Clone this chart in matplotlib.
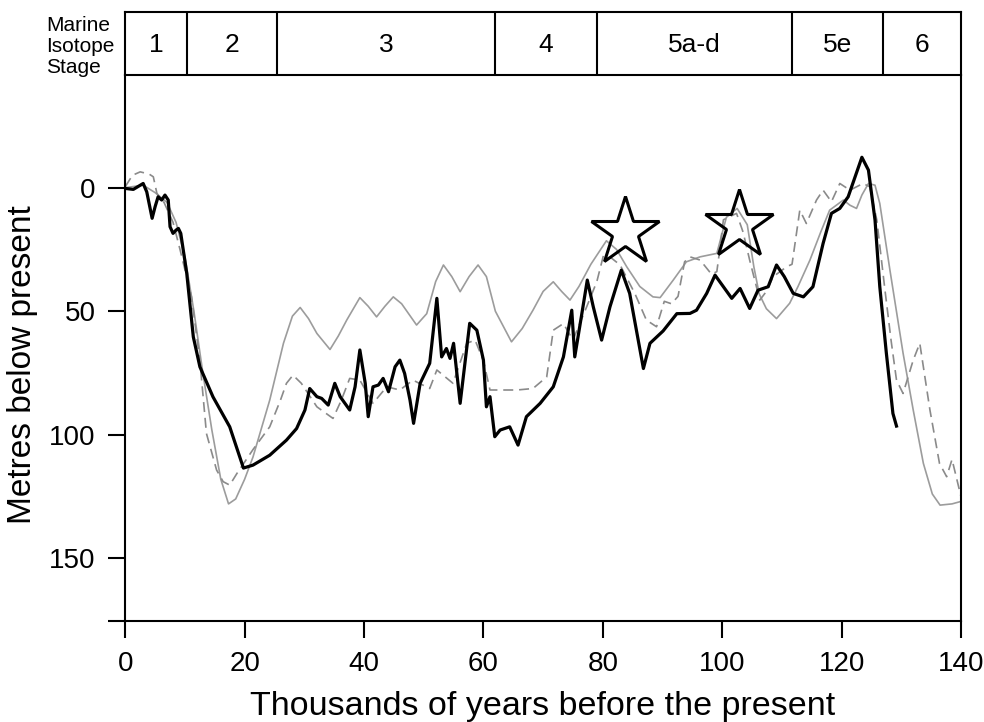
import matplotlib as mpl
mpl.use('Agg')
import matplotlib.pyplot as plt
import numpy as np

mpl.rc('font', family='Liberation Sans', size=20)

# thick black curve (ka, metres below present)
black_x = [0, 1.35, 3.0, 3.6, 4.5, 5.0, 5.5, 6.1, 6.65, 7.2, 7.5, 8.0, 8.5, 8.9, 9.3, 10.3, 11.4, 12.5,
           14.7, 17.5, 19.8, 21.4, 24.2, 27.0, 28.7, 30.1, 30.9, 32.1, 32.9, 34.0, 35.1, 36.0, 37.6, 38.5,
           39.3, 40.2, 40.7, 41.5, 42.4, 43.2, 44.1, 45.2, 46.0, 46.8, 47.7, 48.3, 49.4, 51.0, 52.2, 53.0,
           53.8, 54.4, 55.0, 56.1, 57.7, 58.9, 60.0, 60.5, 61.1, 61.9, 62.8, 64.4, 65.8, 67.2, 69.5, 71.7,
           73.4, 74.8, 75.3, 76.4, 77.4, 78.4, 79.8, 81.2, 83.1, 84.5, 86.8, 87.9, 90.1, 92.4, 94.6, 95.7,
           97.4, 98.8, 100.2, 101.6, 103.0, 104.6, 106.0, 107.7, 109.1, 110.4, 111.9, 113.6, 115.2, 116.9,
           118.3, 119.7, 121.1, 123.4, 124.5, 125.6, 126.4, 127.5, 128.6, 129.2]
black_y = [0.3, 0.7, -1.7, 1.7, 12.4, 7.7, 3.7, 5, 3, 5, 15.8, 18.5, 17.2, 16.5, 18.5, 34.7, 60.4, 72.5,
           84.7, 96.8, 113.5, 112.3, 108.3, 102.2, 97.5, 90, 81.3, 84.6, 85.3, 88, 79.2, 84.6, 90, 80.6,
           65.7, 79.2, 92.7, 80.6, 79.9, 77.2, 82.6, 72.5, 69.8, 75.2, 86, 95.4, 79.2, 71.1, 44.8, 68.5,
           65.1, 69.1, 63, 87.3, 54.9, 57.7, 69.8, 88.7, 84.6, 100.8, 98.1, 96.8, 104.2, 92.7, 87.3, 80.6,
           68.5, 49.6, 68.5, 52.3, 37.4, 48.2, 61.7, 48.2, 33.4, 42.8, 73.2, 63, 58, 51, 50.9, 49.6,
           42.8, 35.4, 40.1, 44.8, 40.8, 48.9, 41.5, 40.1, 31.3, 36, 42.8, 44.2, 40.1, 22.6,
           10.4, 8.4, 3.7, -12.3, -7.1, 13.1, 40.1, 67, 91.4, 96.5]

# thin grey solid curve
grey_x = [0, 3, 5, 7, 8.5, 10, 11.5, 13, 14.5, 16, 17.3, 18.5, 20, 21.4, 24.2, 26.5, 28, 29.3, 30.7, 32.1,
          34.3, 35.7, 37.1, 39.3, 40.7, 42.1, 43.5, 44.9, 46.3, 48.8, 50.5, 52, 53.3, 54.7, 56.1, 57.6,
          59.1, 60.5, 62, 64.7, 66.5, 68.3, 70, 71.7, 73.1, 74.5, 76, 78, 80.6, 82.3, 84.0, 86.2, 88.4,
          89.6, 91.8, 94.0, 96.3, 99.1, 100.7, 102.5, 104.2, 105.3, 106.2, 107.4, 109.1, 111.3, 112.7,
          114.7, 116.5, 118.0, 120.3, 121.4, 122.5, 123.4, 124.5, 125.6, 126.4, 128.1, 130.3, 132.0,
          133.7, 135.2, 136.5, 138.5, 140]
grey_y = [0, -1, 2, 6, 14, 28, 50, 75, 98, 118, 128, 126, 118, 109, 86, 63, 52, 48.5, 53, 59,
          65.5, 60, 53.6, 44.5, 48, 52.3, 48, 44.2, 47, 55.6, 51, 38, 31.3, 36, 42.1, 36,
          31.3, 36, 50, 62.4, 57, 49.6, 42, 38.1, 42, 45.5, 40, 31, 21.5, 25, 32, 40, 44.2,
          44.5, 37.4, 30, 28, 26.6, 12, 8.4, 15, 32, 43, 49, 53, 46.8, 40,
          29.3, 18, 9.1, 5, 7.1, 8.4, 3, -1.7, -1, 6.4, 33.4, 67, 90,
          111.6, 124, 128.5, 128, 127]

# grey dashed curve
dash_x = [0, 1.2, 2.5, 4.0, 4.7, 5.3, 6.5, 8, 9.2, 11.1, 12.5, 13.6, 15.3, 16.4, 17.5, 18.7, 21.4, 24.2,
          26, 27.0, 28.1, 29.5, 32.1, 34.8, 36.2, 37.6, 39.3, 41.5, 43.8, 46.0, 48.2, 51.0, 52.2, 54.9,
          57.2, 58.6, 60, 61.1, 65.6, 68.3, 70.6, 71.7, 73.4, 75.0, 77.3, 79.0, 80.1, 81.5, 82.9, 85.4,
          87.3, 89.0, 90.3, 91.5, 92.6, 93.7, 94.6, 96.3, 98.2, 99.1, 99.6, 100.2, 102.4, 103.5, 104.6,
          106.3, 107.4, 108.5, 110.8, 111.7, 113.0, 114.1, 115.8, 116.9, 118.3, 119.7, 121.4, 123.6,
          124.7, 125.9, 127.2, 128.3, 129.2, 130.3, 132.0, 133.1, 134.8, 136.4, 137.6, 138.5, 139.3, 140]
dash_y = [-0.4, -5, -6.4, -5.5, -4.4, 2.3, 6, 14, 25.3, 44.2, 70, 99.5, 114.3, 119, 120.4, 115.7, 106, 96.8,
          86, 79.2, 75.9, 79.2, 88.7, 93.4, 86, 77.2, 77.9, 87.3, 80.6, 81.9, 77.9, 81.3, 73.8, 79.2,
          63, 61.7, 70, 81.9, 81.9, 81.3, 76.6, 57.7, 55, 61.7, 48.2, 38, 27.5, 28.6, 31.3, 43,
          53.6, 56.3, 46, 47, 44, 30, 28, 29.3, 35, 34, 25, 13, 10.4, 18, 29.3,
          45.5, 42, 36.1, 32, 31, 9.1, 14.5, 5, 1, 5.7, -1.7, 1, -1.7,
          -0.4, 13.1, 40.1, 62, 77.9, 83.3, 69.8, 63, 90, 111.6, 117, 110, 118, 125]

star_x = [83.8, 102.8]
star_y = [18, 15]

# marine isotope stages
stage_edges = [0, 10.3, 25.4, 61.9, 79, 111.7, 126.9, 140]
stage_labels = ['1', '2', '3', '4', '5a-d', '5e', '6']

fig = plt.figure(figsize=(9.84, 7.22), dpi=100)
ax = fig.add_axes([0.1273, 0.1399, 0.8493, 0.7562])
band = fig.add_axes([0.1273, 0.8961, 0.8493, 0.0873])

ax.plot(grey_x, grey_y, '-', color='#9c9c9c', lw=1.2)
ax.plot(dash_x, dash_y, '--', color='#8a8a8a', lw=1.2, dashes=(6, 3.5))
ax.plot(black_x, black_y, '-', color='black', lw=2.3)
ax.plot(star_x, star_y, '*', ms=52, mfc='none', mec='black', mew=2.2, clip_on=False)

ax.set_xlim(0, 140)
ax.set_ylim(175.4, -45.6)
ax.set_xticks([0, 20, 40, 60, 80, 100, 120, 140])
ax.set_yticks([0, 50, 100, 150, 175.4])
ax.set_yticklabels(['0', '50', '100', '150', ''])
ax.tick_params(direction='out', length=12.5, width=1.5, pad=9, labelsize=20)
ax.spines['top'].set_visible(False)
for s in ['left', 'right', 'bottom']:
    ax.spines[s].set_linewidth(1.5)
ax.set_xlabel('Thousands of years before the present', fontsize=24.5)
ax.set_ylabel('Metres below present', fontsize=24)
ax.xaxis.set_label_coords(0.5, -0.128)
ax.yaxis.set_label_coords(-0.104, 0.469)

band.set_xlim(0, 140)
band.set_ylim(0, 1)
band.set_xticks([])
band.set_yticks([])
for s in band.spines.values():
    s.set_linewidth(1.5)
for e in stage_edges[1:-1]:
    band.axvline(e, color='black', lw=1.5)
for i, lab in enumerate(stage_labels):
    band.text((stage_edges[i] + stage_edges[i + 1]) / 2, 0.47, lab,
              ha='center', va='center', fontsize=19)
band.text(-0.095, 0.45, 'Marine\nIsotope\nStage', transform=band.transAxes,
          ha='left', va='center', fontsize=15, linespacing=1.15)

plt.savefig('out.png', dpi=100)
plt.close()
